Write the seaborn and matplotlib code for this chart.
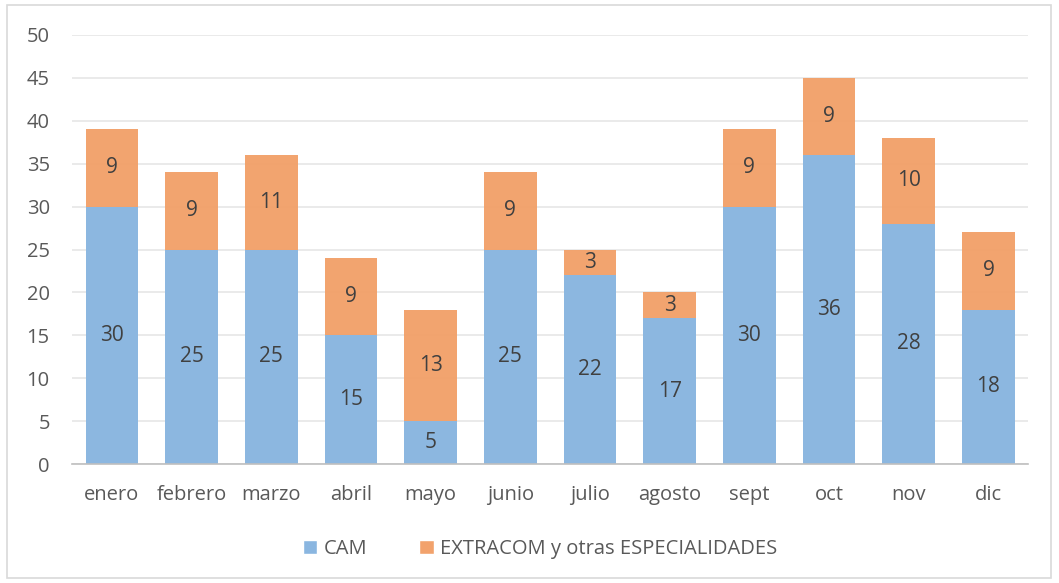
import matplotlib
matplotlib.use("Agg")
import matplotlib.pyplot as plt
import seaborn as sns
import pandas as pd
from matplotlib.patches import Rectangle, Patch

months = ["enero", "febrero", "marzo", "abril", "mayo", "junio",
          "julio", "agosto", "sept", "oct", "nov", "dic"]
cam = [30, 25, 25, 15, 5, 25, 22, 17, 30, 36, 28, 18]
extra = [9, 9, 11, 9, 13, 9, 3, 3, 9, 9, 10, 9]
series_names = ["CAM", "EXTRACOM y otras ESPECIALIDADES"]

blue = "#8AB6E0"
orange = "#F2A26C"
text_gray = "#595959"
label_dark = "#404040"

sns.set_theme(style="white")
plt.rcParams["font.family"] = ["Open Sans", "DejaVu Sans"]

df = pd.DataFrame({"mes": months, "cam": cam, "extra": extra})

fig = plt.figure(figsize=(10.59, 5.83), dpi=100)
ax = fig.add_axes([0.068, 0.204, 0.903, 0.736])

sns.barplot(data=df, x="mes", y="cam", color=blue, width=0.66,
            saturation=1, ax=ax, zorder=2, alpha=0.98, linewidth=0)
sns.barplot(data=df, x="mes", y="extra", bottom=df["cam"], color=orange,
            width=0.66, saturation=1, ax=ax, zorder=2, alpha=0.98, linewidth=0)

# value labels centred in each segment
for i, (c, e) in enumerate(zip(cam, extra)):
    ax.text(i, c / 2, str(c), ha="center", va="center",
            fontsize=15, color=label_dark, zorder=3)
    ax.text(i, c + e / 2, str(e), ha="center", va="center",
            fontsize=15, color=label_dark, zorder=3)

ax.set_ylim(0, 50)
ax.set_yticks(range(0, 51, 5))
ax.set_xlim(-0.5, len(months) - 0.5)
ax.yaxis.grid(True, color="#E6E6E6", linewidth=1.2, zorder=0)
ax.set_axisbelow(True)
for s in ["top", "right", "left"]:
    ax.spines[s].set_visible(False)
ax.spines["bottom"].set_color("#BFBFBF")
ax.spines["bottom"].set_linewidth(1.2)
ax.set_xlabel("")
ax.set_ylabel("")
ax.tick_params(axis="both", length=0, labelsize=14.5, labelcolor=text_gray)
ax.tick_params(axis="x", pad=15)
ax.tick_params(axis="y", pad=16)

handles = [Patch(facecolor=blue), Patch(facecolor=orange)]
fig.legend(handles, series_names, loc="center", bbox_to_anchor=(0.51, 0.058),
           ncol=2, frameon=False, fontsize=14.5, handlelength=0.7,
           handleheight=0.7, handletextpad=0.3, columnspacing=2.6,
           labelcolor=text_gray)

fig.add_artist(Rectangle((0.007, 0.008), 0.985, 0.983, transform=fig.transFigure,
                         fill=False, edgecolor="#D9D9D9", linewidth=1.2))

fig.savefig("out.png", dpi=100)
